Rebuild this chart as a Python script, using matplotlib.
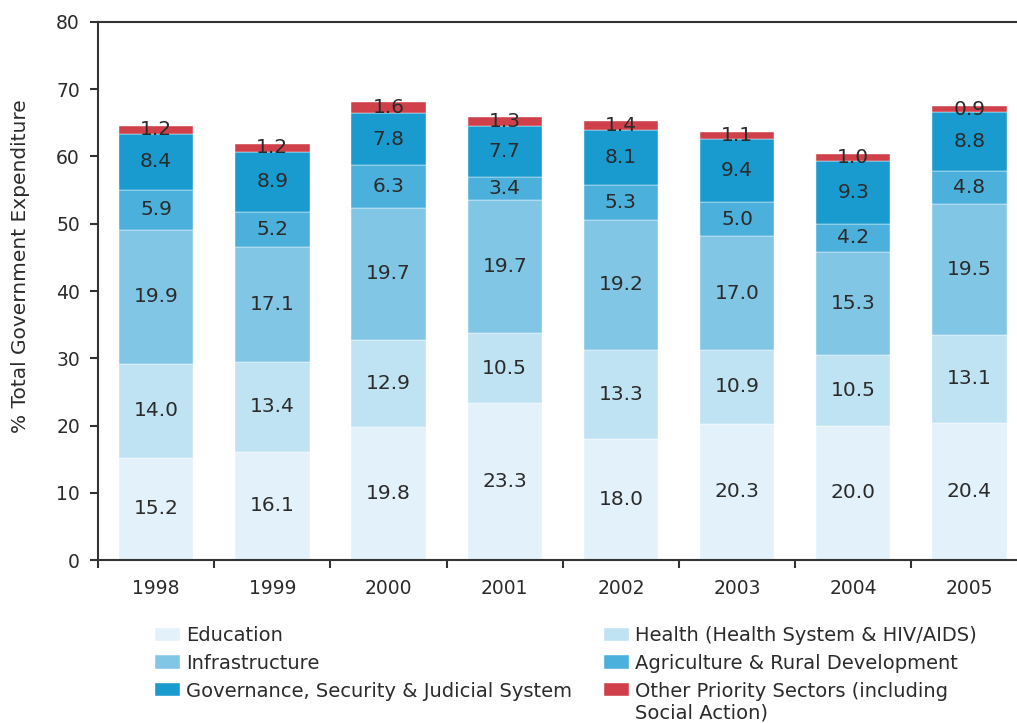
import numpy as np
import matplotlib
matplotlib.use("Agg")
import matplotlib.pyplot as plt
from matplotlib.ticker import FixedLocator

# data
years = ["1998", "1999", "2000", "2001", "2002", "2003", "2004", "2005"]
education = [15.2, 16.1, 19.8, 23.3, 18.0, 20.3, 20.0, 20.4]
health = [14.0, 13.4, 12.9, 10.5, 13.3, 10.9, 10.5, 13.1]
infrastructure = [19.9, 17.1, 19.7, 19.7, 19.2, 17.0, 15.3, 19.5]
agriculture = [5.9, 5.2, 6.3, 3.4, 5.3, 5.0, 4.2, 4.8]
governance = [8.4, 8.9, 7.8, 7.7, 8.1, 9.4, 9.3, 8.8]
other = [1.2, 1.2, 1.6, 1.3, 1.4, 1.1, 1.0, 0.9]

series = [education, health, infrastructure, agriculture, governance, other]
names = ["Education", "Health (Health System & HIV/AIDS)", "Infrastructure",
         "Agriculture & Rural Development", "Governance, Security & Judicial System",
         "Other Priority Sectors (including"]
colors = ["#e3f2fa", "#bfe3f3", "#82c6e6", "#4bb0dc", "#1a9bd0", "#d0404a"]

plt.rcParams['font.family'] = ['DejaVu Sans']
txt = "#2b2b2b"

fig = plt.figure(figsize=(10.17, 7.23), dpi=100)
ax = fig.add_axes([0.0964, 0.2254, 0.9036, 0.7442])

x = np.arange(len(years))
bottom = np.zeros(len(years))
bars = []
for vals, col in zip(series, colors):
    vals = np.array(vals)
    b = ax.bar(x, vals, 0.64, bottom=bottom, color=col, edgecolor="white", linewidth=0.3)
    bars.append(b)
    for xi, v, b0 in zip(x, vals, bottom):
        ax.text(xi, b0 + v / 2, f"{v:.1f}", ha="center", va="center",
                fontsize=14.5, color=txt)
    bottom = bottom + vals

ax.set_xlim(-0.5, 7.409)
ax.set_ylim(0, 80)
ax.set_yticks(np.arange(0, 81, 10))
ax.set_xticks(x)
ax.set_xticklabels(years)
ax.xaxis.set_minor_locator(FixedLocator(np.arange(-0.5, 7.0, 1.0)))
ax.tick_params(axis="x", which="major", length=0, pad=14, labelsize=13.5, labelcolor=txt)
ax.tick_params(axis="x", which="minor", length=6, width=1.5, color="#333333", direction="out")
ax.tick_params(axis="y", length=6, width=1.5, color="#333333", pad=7, labelsize=13.5, labelcolor=txt)

for s in ["left", "bottom", "top"]:
    ax.spines[s].set_color("#333333")
    ax.spines[s].set_linewidth(1.5)
ax.spines["right"].set_visible(False)

ax.set_ylabel("% Total Government Expenditure", fontsize=14.5, color=txt)
ax.yaxis.set_label_coords(-0.074, 0.546)

# legend: column-major order
order = [0, 2, 4, 1, 3, 5]
fig.legend([bars[i] for i in order], [names[i] for i in order],
           loc="upper left", bbox_to_anchor=(0.152, 0.134), ncol=2, frameon=False,
           fontsize=14, labelcolor=txt, handlelength=1.3, handleheight=0.67,
           handletextpad=0.3, columnspacing=1.64, labelspacing=0.45, borderpad=0,
           borderaxespad=0)
fig.text(635 / 1017, 1 - 713 / 723, "Social Action)", fontsize=14, color=txt,
         ha="left", va="center")

fig.savefig("out.png", dpi=100)
